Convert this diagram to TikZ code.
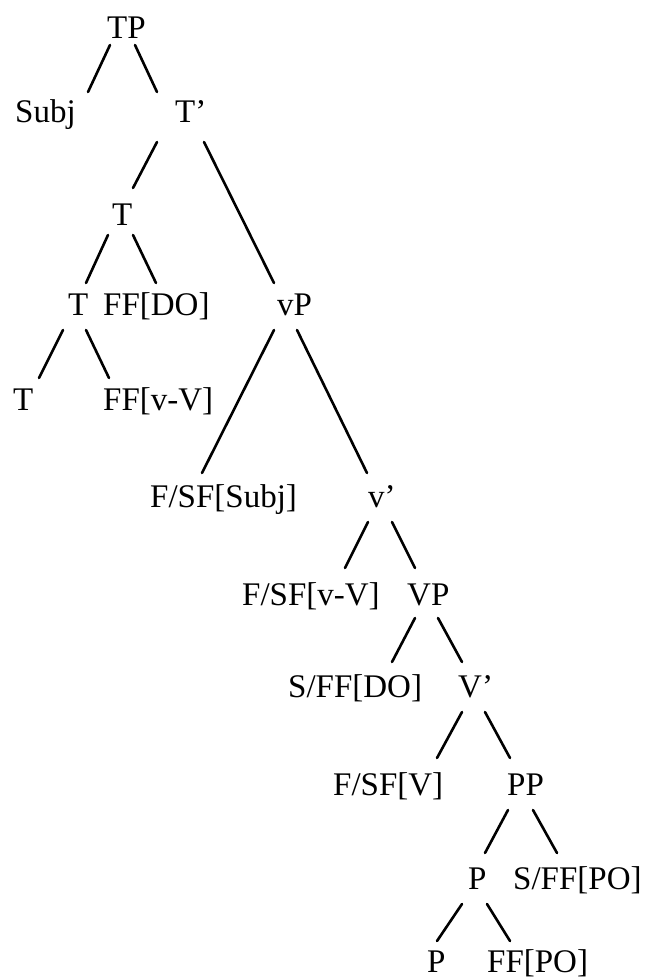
\documentclass[tikz,border=0pt]{standalone}
\usepackage{fontspec}
\setmainfont{Liberation Serif}
\begin{document}
\begin{tikzpicture}[x=1pt,y=-1pt,
  lbl/.style={anchor=base west,inner sep=0pt,font=\fontsize{33}{40}\selectfont},
  branch/.style={line width=2.6pt,line cap=round}]
\useasboundingbox (0,0) rectangle (648,979);
\node[lbl] (TP) at (107,39) {TP};
\node[lbl] (Subj) at (15,122) {Subj};
\node[lbl] (Tbar) at (175,122) {T’};
\node[lbl] (Tm) at (112,225) {T};
\node[lbl] (Tl) at (68,315) {T};
\node[lbl] (FFDO) at (103,315) {FF[DO]};
\node[lbl] (vP) at (277,315) {vP};
\node[lbl] (Tb) at (13,410) {T};
\node[lbl] (FFvV) at (103,410) {FF[v-V]};
\node[lbl] (FSFSubj) at (150,507) {F/SF[Subj]};
\node[lbl] (vbar) at (368,507) {v’};
\node[lbl] (FSFvV) at (242,605) {F/SF[v-V]};
\node[lbl] (VP) at (407,605) {VP};
\node[lbl] (SFFDO) at (288,697) {S/FF[DO]};
\node[lbl] (Vbar) at (458,697) {V’};
\node[lbl] (FSFV) at (333,795) {F/SF[V]};
\node[lbl] (PP) at (507,795) {PP};
\node[lbl] (P) at (468,889) {P};
\node[lbl] (SFFPO) at (513,889) {S/FF[PO]};
\node[lbl] (Pb) at (427,972) {P};
\node[lbl] (FFPO) at (487,972) {FF[PO]};
\begin{scope}[branch]
\draw ([shift={(3,6)}]TP.base west) -- ([shift={(73,-30)}]Subj.base west);
\draw ([shift={(28,6)}]TP.base west) -- ([shift={(-18,-30)}]Tbar.base west);
\draw ([shift={(-18,20)}]Tbar.base west) -- ([shift={(21,-37)}]Tm.base west);
\draw ([shift={(29,20)}]Tbar.base west) -- ([shift={(-3,-32)}]vP.base west);
\draw ([shift={(-4,10)}]Tm.base west) -- ([shift={(18,-32)}]Tl.base west);
\draw ([shift={(21,10)}]Tm.base west) -- ([shift={(53,-32)}]FFDO.base west);
\draw ([shift={(-5,15)}]Tl.base west) -- ([shift={(26,-32)}]Tb.base west);
\draw ([shift={(18,15)}]Tl.base west) -- ([shift={(6,-32)}]FFvV.base west);
\draw ([shift={(-3,15)}]vP.base west) -- ([shift={(52,-34)}]FSFSubj.base west);
\draw ([shift={(20,15)}]vP.base west) -- ([shift={(-1,-34)}]vbar.base west);
\draw ([shift={(0,15)}]vbar.base west) -- ([shift={(103,-37)}]FSFvV.base west);
\draw ([shift={(24,15)}]vbar.base west) -- ([shift={(8,-37)}]VP.base west);
\draw ([shift={(8,13)}]VP.base west) -- ([shift={(104,-35)}]SFFDO.base west);
\draw ([shift={(31,13)}]VP.base west) -- ([shift={(4,-35)}]Vbar.base west);
\draw ([shift={(4,15)}]Vbar.base west) -- ([shift={(104,-37)}]FSFV.base west);
\draw ([shift={(27,15)}]Vbar.base west) -- ([shift={(3,-37)}]PP.base west);
\draw ([shift={(1,15)}]PP.base west) -- ([shift={(17,-36)}]P.base west);
\draw ([shift={(26,15)}]PP.base west) -- ([shift={(44,-36)}]SFFPO.base west);
\draw ([shift={(-6,15)}]P.base west) -- ([shift={(10,-31)}]Pb.base west);
\draw ([shift={(19,15)}]P.base west) -- ([shift={(23,-31)}]FFPO.base west);
\end{scope}
\end{tikzpicture}
\end{document}
